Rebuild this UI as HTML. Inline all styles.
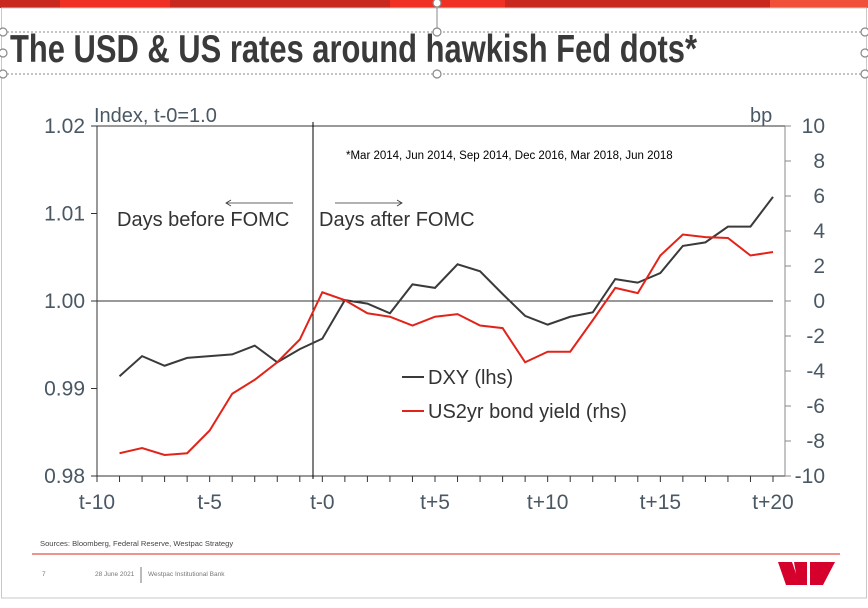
<!DOCTYPE html>
<html><head><meta charset="utf-8"><style>
body{margin:0;width:868px;height:603px;background:#fff;overflow:hidden;font-family:"Liberation Sans",sans-serif}
</style></head><body>
<svg width="868" height="603" viewBox="0 0 868 603" xmlns="http://www.w3.org/2000/svg">
<rect x="0" y="0" width="868" height="8" fill="#c8281e"/>
<rect x="60" y="0" width="110" height="8" fill="#ee3124"/>
<rect x="390" y="0" width="115" height="8" fill="#ee3124"/>
<rect x="770" y="0" width="98" height="8" fill="#f0503a"/>
<rect x="1.5" y="8" width="865" height="590" fill="none" stroke="#c8c8c8" stroke-width="1"/>
<line x1="3" y1="32" x2="865" y2="32" stroke="#888" stroke-dasharray="2,2"/>
<line x1="3" y1="74" x2="865" y2="74" stroke="#888" stroke-dasharray="2,2"/>
<line x1="437" y1="8" x2="437" y2="32" stroke="#888"/>
<g fill="#fff" stroke="#888" stroke-width="1.2">
<circle cx="3" cy="32" r="4"/><circle cx="437" cy="32" r="4"/><circle cx="865" cy="32" r="4"/>
<circle cx="3" cy="53" r="4"/><circle cx="865" cy="53" r="4"/>
<circle cx="3" cy="74" r="4"/><circle cx="437" cy="74" r="4"/><circle cx="865" cy="74" r="4"/>
<circle cx="437" cy="3" r="4"/>
</g>
<text x="10" y="62" font-size="39" font-weight="bold" fill="#3a3a3a" textLength="687" lengthAdjust="spacingAndGlyphs">The USD &amp; US rates around hawkish Fed dots*</text>
<g id="chart"></g>
<text x="40" y="546" font-size="7.6" fill="#444">Sources: Bloomberg, Federal Reserve, Westpac Strategy</text>
<line x1="32" y1="554" x2="840" y2="554" stroke="#e2231a" stroke-width="1"/>
<text x="42" y="576" font-size="6.5" fill="#777">7</text>
<text x="95" y="576" font-size="6.5" fill="#777">28 June 2021</text>
<line x1="141" y1="567" x2="141" y2="583" stroke="#777"/>
<text x="148" y="576" font-size="6.5" fill="#777">Westpac Institutional Bank</text>
<g fill="#d5002b">
<polygon points="778,562 792,562 800,585 786,585"/>
<polygon points="794,562 807,562 807,585 798,585"/>
<polygon points="810,562 835,562 823,585 810,585"/>
</g>
</svg>
<script>
const days = [-9,-8,-7,-6,-5,-4,-3,-2,-1,0,1,2,3,4,5,6,7,8,9,10,11,12,13,14,15,16,17,18,19,20];
const dxy = [0.9914,0.9937,0.9926,0.9935,0.9937,0.9939,0.9949,0.9930,0.9945,0.9957,1.0001,0.9997,0.9986,1.0019,1.0015,1.0042,1.0034,1.0008,0.9983,0.9973,0.9982,0.9987,1.0025,1.0021,1.0032,1.0063,1.0067,1.0085,1.0085,1.0119];
const us2y = [-8.7,-8.4,-8.8,-8.7,-7.4,-5.3,-4.5,-3.5,-2.2,0.5,0.05,-0.7,-0.9,-1.4,-0.9,-0.75,-1.4,-1.55,-3.5,-2.9,-2.9,-1.1,0.75,0.45,2.6,3.8,3.65,3.6,2.6,2.8];
const leftTicks = [0.98,0.99,1.00,1.01,1.02];
const leftLabels = ["0.98","0.99","1.00","1.01","1.02"];
const rightTicks = [-10,-8,-6,-4,-2,0,2,4,6,8,10];
const xTicks = [-10,-5,0,5,10,15,20];
const xLabels = ["t-10","t-5","t-0","t+5","t+10","t+15","t+20"];

const NS="http://www.w3.org/2000/svg";
const g=document.getElementById('chart');
const X0=97,X1=773,XR=785,YT=126,YB=476;
const LBL='#4a5864';
const xs=d=>X0+(d+10)/30*(X1-X0);
const yl=v=>YB-(v-0.98)/0.04*(YB-YT);
const yr=v=>YB-(v+10)/20*(YB-YT);
function el(t,a,txt){const e=document.createElementNS(NS,t);for(const k in a)e.setAttribute(k,a[k]);if(txt!==undefined)e.textContent=txt;g.appendChild(e);return e;}
let e;
e=el('line',{x1:X0,y1:YT,x2:XR,y2:YT,stroke:'#333'});


e=el('line',{x1:X0,y1:YT,x2:X0,y2:YB,stroke:'#333'});


e=el('line',{x1:X0,y1:YB,x2:XR,y2:YB,stroke:'#333'});


e=el('line',{x1:XR,y1:YT,x2:XR,y2:YB,stroke:'#888'});


e=el('line',{x1:X0,y1:yl(1),x2:X1,y2:yl(1),stroke:'#333'});


e=el('line',{x1:313,y1:YT-4,x2:313,y2:YB+3,stroke:'#000'});


for(let d=-10;d<=20;d++) el('line',{x1:xs(d),y1:YB,x2:xs(d),y2:YB+6,stroke:'#333'});
leftTicks.forEach((v,i)=>{
 el('line',{x1:X0-6,y1:yl(v),x2:X0,y2:yl(v),stroke:'#333'});
 e=el('text',{x:X0-12,y:yl(v)+7,'text-anchor':'end','font-size':21,fill:LBL},leftLabels[i]);
 
 
});
rightTicks.forEach(v=>{
 el('line',{x1:XR,y1:yr(v),x2:XR+6,y2:yr(v),stroke:'#888'});
 e=el('text',{x:XR+40,y:yr(v)+7,'text-anchor':'end','font-size':21,fill:LBL},String(v));
 
 
});
xTicks.forEach((v,i)=>{
 e=el('text',{x:xs(v),y:YB+33,'text-anchor':'middle','font-size':21,fill:LBL},xLabels[i]);
 
 
});
e=el('text',{x:94,y:122,'font-size':20,fill:LBL},'Index, t-0=1.0');


e=el('text',{x:750,y:122,'font-size':20,fill:LBL},'bp');


e=el('text',{x:346,y:159,'font-size':11.5,fill:'#000'},'*Mar 2014, Jun 2014, Sep 2014, Dec 2016, Mar 2018, Jun 2018');


e=el('text',{x:117,y:226,'font-size':20,fill:'#333'},'Days before FOMC');


e=el('text',{x:319,y:226,'font-size':20,fill:'#333'},'Days after FOMC');


el('line',{x1:226,y1:203,x2:293,y2:203,stroke:'#333','stroke-width':0.8});
el('path',{d:'M231,200 L226,203 L231,206',fill:'none',stroke:'#333','stroke-width':0.8});
el('line',{x1:335,y1:203,x2:402,y2:203,stroke:'#333','stroke-width':0.8});
el('path',{d:'M397,200 L402,203 L397,206',fill:'none',stroke:'#333','stroke-width':0.8});
e=el('polyline',{points:days.map((d,i)=>xs(d)+','+yl(dxy[i])).join(' '),fill:'none',stroke:'#3a3a3a','stroke-width':2});


e=el('polyline',{points:days.map((d,i)=>xs(d)+','+yr(us2y[i])).join(' '),fill:'none',stroke:'#e2231a','stroke-width':2});


el('line',{x1:402,y1:377,x2:424,y2:377,stroke:'#3a3a3a','stroke-width':2});
e=el('text',{x:428,y:384,'font-size':20,fill:'#333'},'DXY (lhs)');


el('line',{x1:402,y1:411,x2:424,y2:411,stroke:'#e2231a','stroke-width':2});
e=el('text',{x:428,y:418,'font-size':20,fill:'#333'},'US2yr bond yield (rhs)');


</script>
</body></html>
